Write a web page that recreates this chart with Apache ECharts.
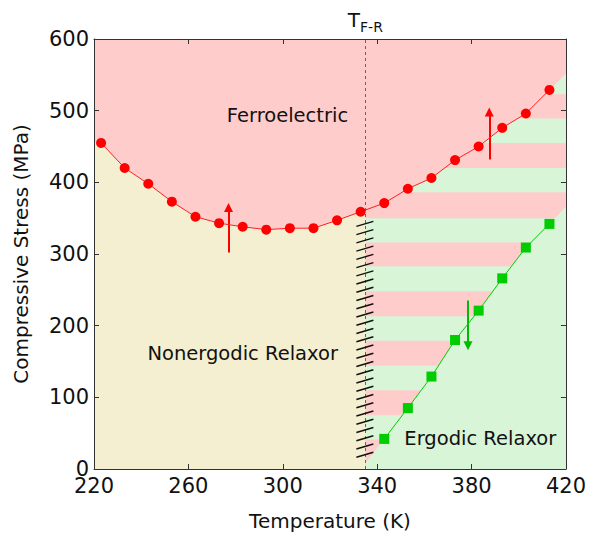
<!DOCTYPE html>
<html>
<head>
<meta charset="utf-8">
<script src="https://cdn.jsdelivr.net/npm/echarts@6/dist/echarts.min.js"></script>
<style>
  html, body { margin: 0; padding: 0; background: #fff; }
  #chart { width: 589px; height: 536px; }
</style>
</head>
<body>
<div id="chart"></div>
<script>
// ferroelectric boundary (red circles)
const redT = [223, 233, 243, 253, 263, 273, 283, 293, 303, 313, 323, 333, 343, 353, 363, 373, 383, 393, 403, 413]
const redS = [455, 420, 398, 373, 352, 343, 338, 334, 336, 336, 347, 359, 371, 391, 406, 431, 450, 476, 496, 529]
// ergodic boundary (green squares)
const greenT = [343, 353, 363, 373, 383, 393, 403, 413]
const greenS = [42, 85, 129, 180, 221, 266, 309, 342]
// where the region borders meet the frame
const ferroEnds = [[220, 455], [420, 552]]
const ergodicEnds = [[335, 8], [420, 366]]
// T_F-R and the striped (mixed) bands
const tfr = 335
const pinkBands = [[0, 41], [75, 110], [144, 179], [213, 248], [283, 316], [350, 386], [420, 455], [489, 523]]
const hatchRange = [[tfr, 20, 342]]
// arrows: [T, from, to]
const redArrows = [[277, 302, 365], [387.5, 432, 498]]
const greenArrows = [[378.5, 235, 172]]
const regionLabels = [[302, 493, 'Ferroelectric'], [283, 161, 'Nonergodic Relaxor'], [383.7, 43, 'Ergodic Relaxor']]

const xTicks = [220, 260, 300, 340, 380, 420]
const yTicks = [0, 100, 200, 300, 400, 500, 600]

const PINK = '#ffcccc'
const BEIGE = '#f3efd0'
const GREEN = '#d8f5d8'
const FRAME = '#333'

const redPts = redT.map((t, i) => [t, redS[i]])
const greenPts = greenT.map((t, i) => [t, greenS[i]])
const ferroEdge = [ferroEnds[0], ...redPts, ferroEnds[1]]
const ergodicEdge = [ergodicEnds[0], ...greenPts, ergodicEnds[1]]

const xMin = xTicks[0], xMax = xTicks[xTicks.length - 1]
const yMin = yTicks[0], yMax = yTicks[yTicks.length - 1]

const arrowLines = (list, color) => list.map(([t, a, b]) => [
  { coord: [t, a], lineStyle: { color, width: 2, type: 'solid' } },
  { coord: [t, b] }
])

const axisCommon = {
  type: 'value',
  z: 10,
  axisLine: { show: true, onZero: false, lineStyle: { color: FRAME, width: 1 } },
  axisTick: { show: true, inside: true, length: 5, lineStyle: { color: FRAME } },
  splitLine: { show: false }
}

const option = {
  animation: false,
  textStyle: { fontFamily: 'DejaVu Sans' },
  grid: { left: 94, right: 21, top: 39, bottom: 67, show: true, backgroundColor: GREEN, borderWidth: 0 },
  xAxis: [
    {
      ...axisCommon, position: 'bottom', min: xMin, max: xMax, interval: 40,
      axisLabel: { fontSize: 21, color: '#111', margin: 6 },
      name: 'Temperature (K)', nameLocation: 'middle', nameGap: 42,
      nameTextStyle: { fontSize: 20, color: '#111' }
    },
    { ...axisCommon, position: 'top', min: xMin, max: xMax, interval: 40, axisLabel: { show: false } }
  ],
  yAxis: [
    {
      ...axisCommon, position: 'left', min: yMin, max: yMax, interval: 100,
      axisLabel: { fontSize: 21, color: '#111', margin: 5 },
      name: 'Compressive Stress (MPa)', nameLocation: 'middle', nameGap: 63,
      nameTextStyle: { fontSize: 20, color: '#111' }
    },
    { ...axisCommon, position: 'right', min: yMin, max: yMax, interval: 100, axisLabel: { show: false } }
  ],
  series: [
    {
      // nonergodic relaxor region
      type: 'custom', z: 1, silent: true,
      data: [[xMin, tfr]],
      renderItem(params, api) {
        const p0 = api.coord([api.value(0), yMax])
        const p1 = api.coord([api.value(1), yMin])
        return { type: 'rect', shape: { x: p0[0], y: p0[1], width: p1[0] - p0[0], height: p1[1] - p0[1] }, style: { fill: BEIGE } }
      }
    },
    {
      // pink stripes of the mixed region
      type: 'custom', z: 2, silent: true,
      data: pinkBands,
      renderItem(params, api) {
        const p0 = api.coord([tfr, api.value(1)])
        const p1 = api.coord([xMax, api.value(0)])
        return { type: 'rect', shape: { x: p0[0], y: p0[1], width: p1[0] - p0[0], height: p1[1] - p0[1] }, style: { fill: PINK } }
      }
    },
    {
      // ergodic relaxor region
      type: 'line', z: 3, silent: true, symbol: 'none',
      data: ergodicEdge,
      lineStyle: { width: 0, opacity: 0 },
      areaStyle: { color: GREEN, opacity: 1, origin: 'start' }
    },
    {
      // ferroelectric region
      type: 'line', z: 4, silent: true, symbol: 'none',
      data: ferroEdge,
      lineStyle: { width: 0, opacity: 0 },
      areaStyle: { color: PINK, opacity: 1, origin: 'end' }
    },
    {
      // hatched border + dashed T_F-R line
      type: 'custom', z: 5, silent: true,
      data: hatchRange,
      renderItem(params, api) {
        const top = api.coord([api.value(0), api.value(2)])
        const bot = api.coord([api.value(0), api.value(1)])
        const n = Math.round((bot[1] - top[1]) / 8.2)
        const step = (bot[1] - top[1]) / n
        const children = []
        for (let i = 0; i <= n; i++) {
          const y = top[1] + i * step
          children.push({
            type: 'line',
            shape: { x1: top[0] - 9, y1: y + 2.5, x2: top[0] + 8, y2: y - 2.5 },
            style: { stroke: '#111', lineWidth: 1.5 }
          })
        }
        return { type: 'group', children }
      },
      markLine: {
        silent: true, symbol: 'none',
        lineStyle: { color: '#666', type: [3, 3], width: 1 },
        label: {
          show: true, position: 'end', distance: 5,
          formatter: 'T{s|F-R}',
          color: '#111', fontSize: 20, lineHeight: 28,
          rich: { s: { fontSize: 14, verticalAlign: 'bottom', lineHeight: 28, color: '#111' } }
        },
        data: [{ xAxis: tfr }]
      }
    },
    {
      type: 'line', z: 6, data: redPts,
      symbol: 'circle', symbolSize: 10,
      itemStyle: { color: '#ff0000' },
      lineStyle: { color: '#ff2020', width: 1 },
      markLine: {
        silent: true, symbol: ['none', 'triangle'], symbolSize: 9,
        label: { show: false },
        data: arrowLines(redArrows, '#ff0000')
      }
    },
    {
      type: 'line', z: 6, data: greenPts,
      symbol: 'rect', symbolSize: 10,
      itemStyle: { color: '#00cc00' },
      lineStyle: { color: '#00cc00', width: 1 },
      markLine: {
        silent: true, symbol: ['none', 'triangle'], symbolSize: 9,
        label: { show: false },
        data: arrowLines(greenArrows, '#00bb00')
      }
    },
    {
      type: 'scatter', z: 8, silent: true, symbolSize: 0,
      data: regionLabels,
      encode: { x: 0, y: 1 },
      label: {
        show: true, position: 'inside', fontSize: 19.5, color: '#111',
        textBorderWidth: 0, opacity: 1,
        formatter: (p) => p.value[2]
      }
    }
  ]
}

const myChart = echarts.init(document.getElementById('chart'), null, { renderer: 'svg' })
myChart.setOption(option)
</script>
</body>
</html>
